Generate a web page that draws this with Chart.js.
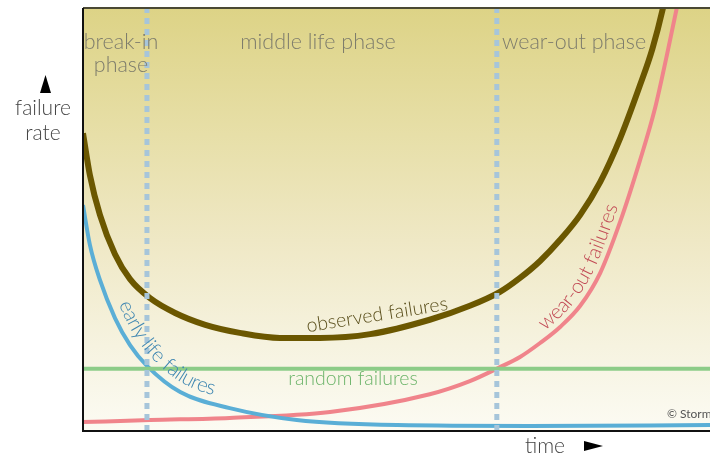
<!DOCTYPE html>
<html>
<head>
<meta charset="utf-8">
<script src="https://cdn.jsdelivr.net/npm/chart.js@4"></script>
<style>
  html, body { margin: 0; padding: 0; background: #fff; }
  #wrap { width: 710px; height: 455px; }
</style>
</head>
<body>
<div id="wrap"><canvas id="chart" width="710" height="455"></canvas></div>
<script>
// time runs 0..100, failure rate 0..100 (arbitrary units)
const obsT    = [0, 1.1, 2.7, 5.1, 7.5, 10.7, 14.7, 19.5, 25.0, 31.4, 37.8, 45.8, 55.3, 61.7, 66.5, 69.7, 72.9, 76.1, 79.3, 82.5, 85.7, 88.8, 90.8, 92.5, 93.1]
const obsRate = [70.4, 60.5, 51.1, 41.8, 35.9, 31.4, 27.9, 25.1, 23.2, 22.0, 22.0, 22.9, 26.3, 29.6, 32.9, 36.2, 40.2, 45.2, 51.1, 58.9, 69.3, 81.6, 90.3, 100, 104.3]

const earlyT    = [0, 1.1, 2.7, 5.1, 7.5, 10.2, 15.5, 23.4, 34.1, 50.1, 71.3, 100]
const earlyRate = [53.4, 44.0, 35.7, 26.7, 20.3, 15.4, 9.2, 5.4, 2.6, 1.4, 1.2, 1.4]

const wearT    = [0, 10.7, 23.4, 39.4, 55.3, 61.7, 66.5, 69.7, 72.9, 76.1, 79.3, 82.5, 85.7, 88.8, 91.2, 93.1, 94.7, 95.2]
const wearRate = [2.1, 2.6, 3.1, 4.5, 8.7, 11.8, 15.1, 17.5, 20.8, 24.6, 29.6, 37.4, 49.6, 63.8, 76.1, 88.7, 100, 103.8]

const randomT    = [0, 100]
const randomRate = [14.7, 14.7]

const phaseBounds = [10.2, 66.0]
const phaseNames  = [['break-in', 'phase'], ['middle life phase'], ['wear-out phase']]

function pts(xs, ys) {
  return xs.map(function (x, i) { return { x: x, y: ys[i] } })
}

const FONT = 'Lato, "Open Sans", sans-serif'

// sample the drawn bezier path of a line dataset
function samplePath(meta) {
  var out = []
  var p = meta.data
  for (var i = 0; i < p.length - 1; i++) {
    var a = p[i], b = p[i + 1]
    var c1x = a.cp2x !== undefined ? a.cp2x : a.x
    var c1y = a.cp2y !== undefined ? a.cp2y : a.y
    var c2x = b.cp1x !== undefined ? b.cp1x : b.x
    var c2y = b.cp1y !== undefined ? b.cp1y : b.y
    for (var k = 0; k < 30; k++) {
      var t = k / 30, u = 1 - t
      out.push({
        x: u*u*u*a.x + 3*u*u*t*c1x + 3*u*t*t*c2x + t*t*t*b.x,
        y: u*u*u*a.y + 3*u*u*t*c1y + 3*u*t*t*c2y + t*t*t*b.y
      })
    }
  }
  out.push({ x: p[p.length - 1].x, y: p[p.length - 1].y })
  return out
}

// write text letter by letter along a sampled path
function textAlong(ctx, path, text, startX, offset) {
  var i0 = 0
  while (i0 < path.length - 1 && path[i0].x < startX) i0++
  var dist = [0]
  for (var i = i0 + 1; i < path.length; i++) {
    dist.push(dist[dist.length - 1] + Math.hypot(path[i].x - path[i - 1].x, path[i].y - path[i - 1].y))
  }
  function at(s) {
    for (var j = 1; j < dist.length; j++) {
      if (dist[j] >= s) {
        var p0 = path[i0 + j - 1], p1 = path[i0 + j]
        var f = (s - dist[j - 1]) / (dist[j] - dist[j - 1] || 1)
        return { x: p0.x + (p1.x - p0.x) * f, y: p0.y + (p1.y - p0.y) * f, a: Math.atan2(p1.y - p0.y, p1.x - p0.x) }
      }
    }
    return null
  }
  var s = 0
  for (var c = 0; c < text.length; c++) {
    var ch = text[c]
    var w = ctx.measureText(ch).width
    var q = at(s + w / 2)
    if (!q) break
    var nx = Math.sin(q.a), ny = -Math.cos(q.a)
    ctx.save()
    ctx.translate(q.x + nx * offset, q.y + ny * offset)
    ctx.rotate(q.a)
    ctx.fillText(ch, 0, 0)
    ctx.restore()
    s += w
  }
}

const decor = {
  id: 'decor',
  beforeDatasetsDraw: function (chart) {
    var c = chart.ctx, a = chart.chartArea
    c.save()
    var g = c.createLinearGradient(0, a.top, 0, a.bottom)
    g.addColorStop(0, '#ddd386')
    g.addColorStop(0.3, '#e7dfa8')
    g.addColorStop(0.55, '#efe8c5')
    g.addColorStop(0.8, '#f6f3e0')
    g.addColorStop(1, '#fcfbf3')
    c.fillStyle = g
    c.fillRect(a.left, a.top, a.right - a.left, a.bottom - a.top)
    c.restore()
  },
  afterDatasetsDraw: function (chart) {
    var c = chart.ctx, a = chart.chartArea
    c.save()
    // frame
    c.strokeStyle = '#4a4834'
    c.lineWidth = 2
    c.beginPath(); c.moveTo(a.left, a.top); c.lineTo(a.right, a.top); c.stroke()
    c.strokeStyle = '#111'
    c.beginPath(); c.moveTo(a.left, a.top); c.lineTo(a.left, a.bottom); c.lineTo(a.right, a.bottom); c.stroke()

    // phase labels
    c.fillStyle = '#7d7c6c'
    c.font = '300 21.5px ' + FONT
    c.textAlign = 'center'
    c.textBaseline = 'middle'
    var centers = [121, 318, 574]
    phaseNames.forEach(function (lines, i) {
      lines.forEach(function (ln, j) { c.fillText(ln, centers[i], 42 + j * 23) })
    })

    // axis titles
    c.fillStyle = '#444'
    c.font = '300 21px ' + FONT
    c.fillText('failure', 43, 108)
    c.fillText('rate', 43, 133)
    c.fillText('time', 545, 446)
    c.fillStyle = '#000'
    c.beginPath(); c.moveTo(45.5, 75); c.lineTo(51, 93); c.lineTo(40, 93); c.closePath(); c.fill()
    c.beginPath(); c.moveTo(584, 441); c.lineTo(603, 446); c.lineTo(584, 451); c.closePath(); c.fill()

    // series labels
    c.font = '300 19.5px ' + FONT
    c.fillStyle = '#5a4f1c'
    c.save()
    c.translate(378, 321)
    c.rotate(-9 * Math.PI / 180)
    c.textBaseline = 'alphabetic'
    c.fillText('observed failures', 0, 0)
    c.restore()

    c.fillStyle = '#6cb46a'
    c.fillText('random failures', 353, 379)

    c.font = '300 20.5px ' + FONT
    c.textAlign = 'center'
    c.textBaseline = 'alphabetic'
    c.fillStyle = '#3e86b1'
    textAlong(c, samplePath(chart.getDatasetMeta(4)), 'early life failures', 110, 9)
    c.fillStyle = '#c24a55'
    textAlong(c, samplePath(chart.getDatasetMeta(5)), 'wear-out failures', 549, 7)

    c.fillStyle = '#555'
    c.font = '12px ' + FONT
    c.textAlign = 'left'
    c.textBaseline = 'middle'
    c.fillText('\u00a9 Storm', 667, 414)
    c.restore()
  }
}

new Chart(document.getElementById('chart'), {
  type: 'line',
  data: {
    datasets: [
      { data: pts([phaseBounds[0], phaseBounds[0]], [0, 100]), borderColor: '#a6c5da', borderWidth: 5, borderDash: [6, 5] },
      { data: pts([phaseBounds[1], phaseBounds[1]], [0, 100]), borderColor: '#a6c5da', borderWidth: 5, borderDash: [6, 5] },
      { data: pts(obsT, obsRate), borderColor: '#6b5700', borderWidth: 6, cubicInterpolationMode: 'monotone' },
      { data: pts(randomT, randomRate), borderColor: '#8ccc88', borderWidth: 4 },
      { data: pts(earlyT, earlyRate), borderColor: '#5aaed6', borderWidth: 4, cubicInterpolationMode: 'monotone' },
      { data: pts(wearT, wearRate), borderColor: '#f0848b', borderWidth: 4, cubicInterpolationMode: 'monotone' }
    ]
  },
  options: {
    responsive: false,
    animation: false,
    layout: { padding: { left: 83, top: 8, right: 0, bottom: 24 } },
    elements: { point: { radius: 0 }, line: { borderCapStyle: 'butt' } },
    scales: {
      x: { type: 'linear', min: 0, max: 100, display: false },
      y: { type: 'linear', min: 0, max: 100, display: false }
    },
    plugins: { legend: { display: false }, tooltip: { enabled: false } }
  },
  plugins: [decor]
})
</script>
</body>
</html>
